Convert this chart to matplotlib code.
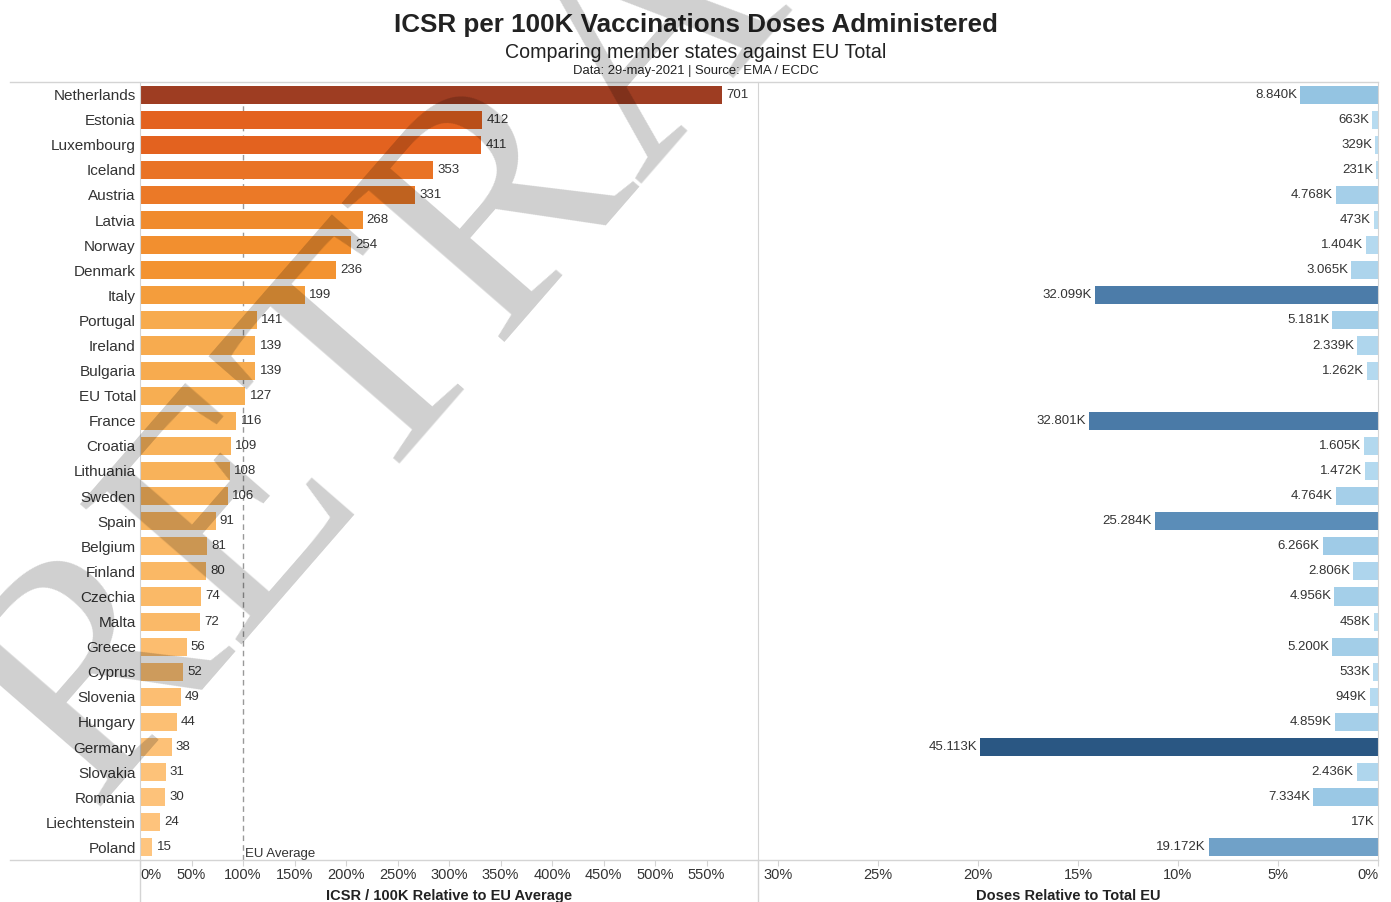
import numpy as np
import matplotlib
matplotlib.use("Agg")
import matplotlib.pyplot as plt
from matplotlib.colors import LinearSegmentedColormap
from matplotlib.lines import Line2D

plt.rcParams['font.family'] = ['Liberation Sans', 'DejaVu Sans']

# ---------------- data ----------------
countries = ["Netherlands", "Estonia", "Luxembourg", "Iceland", "Austria", "Latvia",
             "Norway", "Denmark", "Italy", "Portugal", "Ireland", "Bulgaria", "EU Total",
             "France", "Croatia", "Lithuania", "Sweden", "Spain", "Belgium", "Finland",
             "Czechia", "Malta", "Greece", "Cyprus", "Slovenia", "Hungary", "Germany",
             "Slovakia", "Romania", "Liechtenstein", "Poland"]
icsr_per_100k = [701, 412, 411, 353, 331, 268, 254, 236, 199, 141, 139, 139, 127,
                 116, 109, 108, 106, 91, 81, 80, 74, 72, 56, 52, 49, 44, 38, 31, 30, 24, 15]
# doses administered, thousands (EU Total row has no bar)
doses_k = [8840, 663, 329, 231, 4768, 473, 1404, 3065, 32099, 5181, 2339, 1262, np.nan,
           32801, 1605, 1472, 4764, 25284, 6266, 2806, 4956, 458, 5200, 533, 949, 4859,
           45113, 2436, 7334, 17, 19172]
eu_avg = 124          # reference level used for the relative axis
left_ticks = list(range(0, 551, 50))
right_ticks = [30, 25, 20, 15, 10, 5, 0]

icsr = np.array(icsr_per_100k, dtype=float)
doses = np.array(doses_k, dtype=float)
rel = icsr / eu_avg * 100
share = doses / np.nansum(doses) * 100
y = np.arange(len(countries))

orange = LinearSegmentedColormap.from_list("or", [(0, '#ffc885'), (0.18, '#f7ae52'), (0.34, '#f39330'),
                                                  (0.59, '#e3621f'), (1, '#9e3d22')])
blue = LinearSegmentedColormap.from_list("bl", [(0, '#b9ddf1'), (0.2, '#93c3e2'), (0.56, '#5b8db8'),
                                                (0.73, '#4a7aa7'), (1, '#2a5783')])

W, H = 1391, 902
fig = plt.figure(figsize=(W / 100, H / 100), dpi=100)

def fx(px):
    return px / W

def fy(py):
    return 1 - py / H

txt = '#333333'
grid_c = '#d4d4d4'

# ---------------- left panel ----------------
ax1 = fig.add_axes([fx(140), fy(860), fx(758 - 140), fy(82) - fy(860)])
ax1.barh(y, rel, height=0.72, color=orange(icsr / icsr.max()), zorder=2)
for yi, r, v in zip(y, rel, icsr_per_100k):
    ax1.text(r + 4, yi, str(v), va='center', ha='left', fontsize=9.5, color=txt)
ax1.axvline(100, color='#999999', ls=(0, (4, 3)), lw=1, zorder=1)
ax1.text(101.5, 30.25, "EU Average", fontsize=9.5, color=txt, va='center', ha='left')
ax1.set_xlim(0, 600)
ax1.set_ylim(len(countries) - 0.5, -0.5)
ax1.set_yticks(y)
ax1.set_yticklabels(countries, fontsize=11, color=txt)
ax1.set_xticks(left_ticks)
ax1.set_xticklabels([f"{t}%" for t in left_ticks], fontsize=10.5, color=txt)
ax1.get_xticklabels()[0].set_horizontalalignment('left')
ax1.tick_params(axis='y', length=0, pad=3)
ax1.tick_params(axis='x', length=4, color=grid_c, pad=1.5)
ax1.set_xlabel("ICSR / 100K Relative to EU Average", fontsize=10.5, fontweight='bold', color='#222222', labelpad=5)
for s in ['top', 'right', 'bottom']:
    ax1.spines[s].set_visible(False)
ax1.spines['left'].set_color(grid_c)

# ---------------- right panel ----------------
ax2 = fig.add_axes([fx(758), fy(860), fx(1378 - 758), fy(82) - fy(860)])
ax2.barh(y, share, height=0.72, color=blue(np.nan_to_num(doses) / np.nanmax(doses)), zorder=2)
for yi, s, d in zip(y, share, doses):
    if np.isnan(d):
        continue
    lab = f"{int(d):,}".replace(",", ".") + "K"
    ax2.text(s + 0.15, yi, lab, va='center', ha='right', fontsize=9.5, color=txt)
ax2.set_xlim(31, 0)
ax2.set_ylim(len(countries) - 0.5, -0.5)
ax2.set_yticks([])
ax2.set_xticks(right_ticks)
ax2.set_xticklabels([f"{t}%" for t in right_ticks], fontsize=10.5, color=txt)
ax2.get_xticklabels()[-1].set_horizontalalignment('right')
ax2.tick_params(axis='x', length=4, color=grid_c, pad=1.5)
ax2.set_xlabel("Doses Relative to Total EU", fontsize=10.5, fontweight='bold', color='#222222', labelpad=5)
for s in ['top', 'bottom']:
    ax2.spines[s].set_visible(False)
for s in ['left', 'right']:
    ax2.spines[s].set_color(grid_c)

# frame lines spanning both panels
for py in (82, 860):
    fig.add_artist(Line2D([fx(10), fx(1378)], [fy(py), fy(py)], color=grid_c, lw=1))
for px in (140, 758):
    fig.add_artist(Line2D([fx(px), fx(px)], [fy(860), 0], color=grid_c, lw=1))

# ---------------- titles ----------------
fig.text(0.5, fy(25), "ICSR per 100K Vaccinations Doses Administered", ha='center', va='center',
         fontsize=18.7, fontweight='bold', color='#222222')
fig.text(0.5, fy(52), "Comparing member states against EU Total", ha='center', va='center',
         fontsize=14.1, color='#222222')
fig.text(0.5, fy(71), "Data: 29-may-2021 | Source: EMA / ECDC", ha='center', va='center',
         fontsize=9.35, color='#222222')

# watermark
fig.text(fx(90), fy(808), "RETRACTED", rotation=49, rotation_mode='anchor', ha='left', va='baseline',
         fontsize=235, family='Liberation Serif', color='black', alpha=0.19, zorder=10)

fig.savefig("out.png", dpi=100)
